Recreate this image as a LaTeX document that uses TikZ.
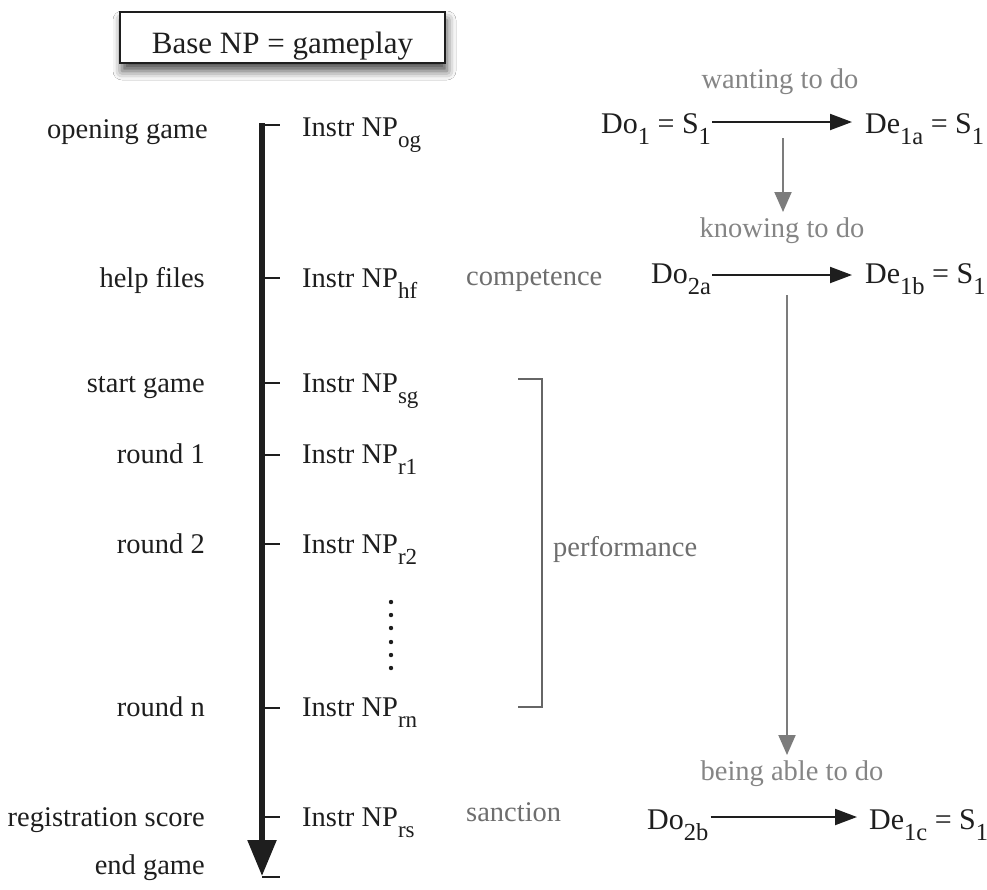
\documentclass[tikz,border=0pt]{standalone}
\usepackage{fontspec}
\setmainfont{Liberation Serif}
\usetikzlibrary{arrows.meta,shadows.blur}
\newcommand{\sbs}[1]{\raisebox{-0.38em}{\fontsize{23}{23}\selectfont #1}}
\newcommand{\sbr}[1]{\raisebox{-0.38em}{\fontsize{24.5}{24}\selectfont #1}}
\definecolor{txtdark}{HTML}{1E1E1E}
\definecolor{txtgray}{HTML}{6E6E6E}
\definecolor{txtlight}{HTML}{858585}
\definecolor{arrgray}{HTML}{7C7C7C}
\definecolor{brgray}{HTML}{666666}
\tikzset{
  lbl/.style={inner sep=0pt, text=txtdark, font=\fontsize{28.5}{32}\selectfont},
  rlbl/.style={inner sep=0pt, text=txtdark, font=\fontsize{30}{32}\selectfont},
  glbl/.style={inner sep=0pt, text=txtgray, font=\fontsize{28.5}{32}\selectfont},
  llbl/.style={inner sep=0pt, text=txtlight, font=\fontsize{28.5}{32}\selectfont},
  axis/.style={line width=5.5pt, draw=txtdark, -{Triangle[length=36pt,width=28pt]}},
  tick/.style={line width=2pt, draw=txtdark},
  blkarr/.style={line width=2pt, draw=txtdark, -{Triangle[length=22pt,width=16pt]}},
  grayarr/.style={line width=2pt, draw=arrgray, -{Triangle[length=20pt,width=17pt]}},
  brk/.style={line width=2pt, draw=brgray},
  basebox/.style={draw=txtdark, line width=1.8pt, fill=white, inner sep=0pt,
    minimum width=325pt, minimum height=51pt, text height=31pt, text depth=0pt,
    text=txtdark, font=\fontsize{31}{34}\selectfont,
    blur shadow={shadow xshift=2pt, shadow yshift=-8pt, shadow blur radius=9pt, shadow opacity=70}}
}
\begin{document}
\begin{tikzpicture}[x=1pt,y=-1pt]
\useasboundingbox (0,0) rectangle (987,889);
\fill[white] (0,0) rectangle (987,889);

% title box
\node[basebox] (base) at (282.5,37.5) {Base NP = gameplay};

% left labels
\node[lbl, anchor=mid east] (log) at (208,136) {opening game};
\node[lbl, anchor=mid east] (lhf) at (205,285) {help files};
\node[lbl, anchor=mid east] (lsg) at (205,390) {start game};
\node[lbl, anchor=mid east] (lr1) at (205,461) {round 1};
\node[lbl, anchor=mid east] (lr2) at (205,551) {round 2};
\node[lbl, anchor=mid east] (lrn) at (205,714) {round n};
\node[lbl, anchor=mid east] (lrs) at (205,824) {registration score};
\node[lbl, anchor=mid east] (leg) at (205,872) {end game};

% instruction labels
\node[lbl, anchor=mid west] (iog) at (302,134) {Instr NP\sbs{og}};
\node[lbl, anchor=mid west] (ihf) at (302,285) {Instr NP\sbs{hf}};
\node[lbl, anchor=mid west] (isg) at (302,390) {Instr NP\sbs{sg}};
\node[lbl, anchor=mid west] (ir1) at (302,461) {Instr NP\sbs{r1}};
\node[lbl, anchor=mid west] (ir2) at (302,551) {Instr NP\sbs{r2}};
\node[lbl, anchor=mid west] (irn) at (302,714) {Instr NP\sbs{rn}};
\node[lbl, anchor=mid west] (irs) at (302,824) {Instr NP\sbs{rs}};

% main axis
\coordinate (axtop) at (262,123);
\coordinate (axbot) at (262,876);
\draw[axis] (axtop) -- (axbot);

% ticks
\coordinate (tog) at (280,125);
\coordinate (thf) at (280,278);
\coordinate (tsg) at (280,383);
\coordinate (tr1) at (280,455);
\coordinate (tr2) at (280,544);
\coordinate (trn) at (280,708);
\coordinate (trs) at (280,817);
\coordinate (teg) at (280,877);
\foreach \t in {tog,thf,tsg,tr1,tr2,trn,trs,teg}
  \draw[tick] (axtop |- \t) -- (\t);

% dots
\foreach \y in {602,615,628,642,655,668}
  \fill[txtdark] (391,\y) circle (2.2pt);

% bracket and gray labels
\coordinate (bra) at (518,379);
\coordinate (brb) at (542,379);
\coordinate (brc) at (542,707);
\coordinate (brd) at (518,707);
\draw[brk] (bra) -- (brb) -- (brc) -- (brd);
\node[glbl, anchor=mid west] (perf) at (553,554) {performance};
\node[glbl, anchor=mid west] (comp) at (466,283) {competence};
\node[glbl, anchor=mid west] (sanc) at (466,819) {sanction};

% right side
\node[llbl, anchor=base] (want) at (780,88) {wanting to do};
\node[rlbl, anchor=mid west] (do1) at (601,131) {Do\sbr{1} = S\sbr{1}};
\node[rlbl, anchor=mid west] (de1a) at (865,131) {De\sbr{1a} = S\sbr{1}};
\draw[blkarr] ([yshift=9pt,xshift=1pt]do1.mid east) -- ([yshift=9pt,xshift=-13pt]de1a.mid west);

\coordinate (g1a) at (783,138);
\coordinate (g1b) at (783,212);
\draw[grayarr] (g1a) -- (g1b);

\node[llbl, anchor=base] (know) at (782,237) {knowing to do};
\node[rlbl, anchor=mid west] (do2a) at (651,281) {Do\sbr{2a}};
\node[rlbl, anchor=mid west] (de1b) at (865,281) {De\sbr{1b} = S\sbr{1}};
\draw[blkarr] ([yshift=6pt,xshift=1pt]do2a.mid east) -- ([yshift=6pt,xshift=-13pt]de1b.mid west);

\coordinate (g2a) at (787,295);
\coordinate (g2b) at (787,755);
\draw[grayarr] (g2a) -- (g2b);

\node[llbl, anchor=base] (able) at (792,780) {being able to do};
\node[rlbl, anchor=mid west] (do2b) at (647,827) {Do\sbr{2b}};
\node[rlbl, anchor=mid west] (de1c) at (869,827) {De\sbr{1c} = S\sbr{1}};
\draw[blkarr] ([yshift=10pt,xshift=2pt]do2b.mid east) -- ([yshift=10pt,xshift=-12pt]de1c.mid west);
\end{tikzpicture}
\end{document}
